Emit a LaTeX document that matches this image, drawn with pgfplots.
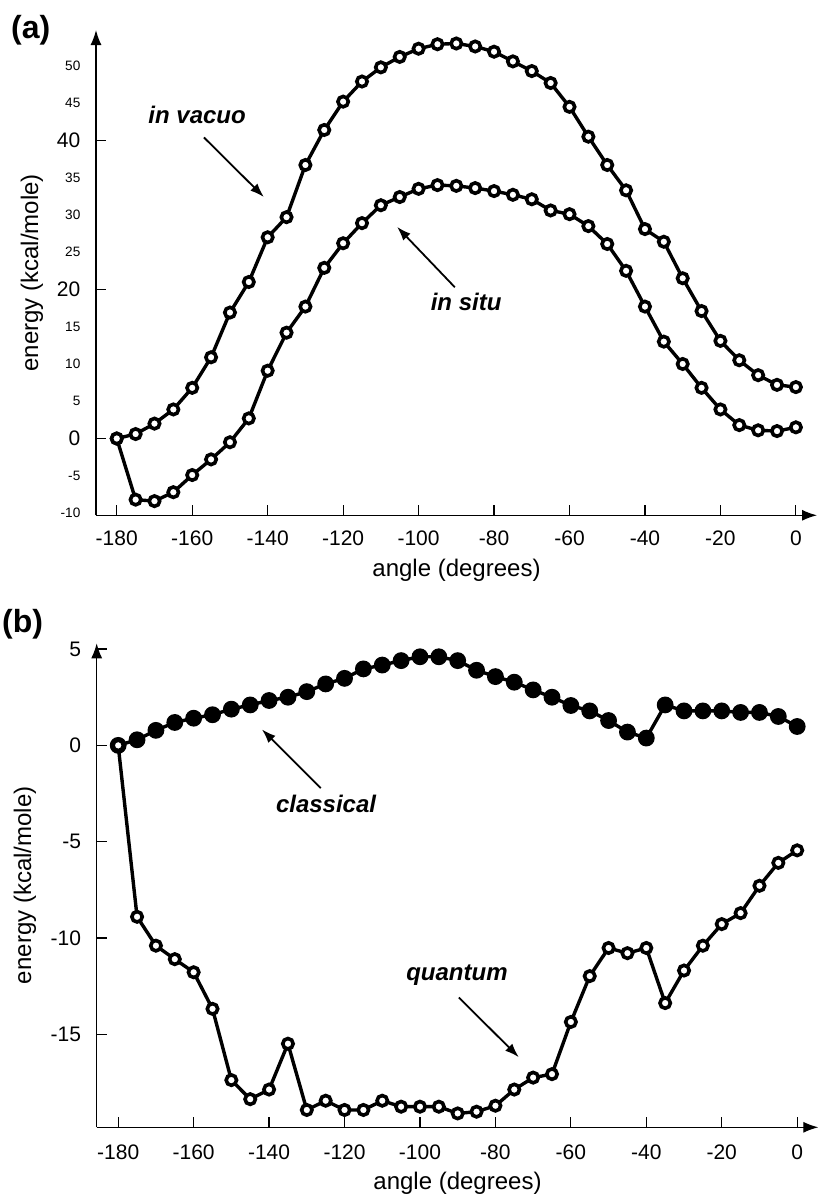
\documentclass[border=0pt]{standalone}
\usepackage{fontspec}
\setmainfont{Liberation Sans}
\usepackage{pgfplots}
\pgfplotsset{compat=1.18}
\usetikzlibrary{arrows.meta}

\pgfplotsset{
  panel/.style={
    scale only axis, axis lines=left,
    axis line style={line width=0.6pt, -{Latex[length=7.5pt,width=5.5pt]}},
    tick align=inside, major tick length=5pt,
    tick style={line width=0.6pt, black},
    xtick={-180,-160,...,0},
    /pgf/number format/assume math mode=true,
    tick label style={font=\fontsize{10.5}{12}\selectfont},
    xticklabel style={yshift=-4.3pt},
    yticklabel style={xshift=-4.3pt},
    label style={font=\fontsize{12}{14}\selectfont},
    xlabel={angle (degrees)}, ylabel={energy (kcal/mole)},
    clip=false,
  },
  open/.style={black, line width=1.7pt, mark=*, mark size=2.6pt,
    mark options={fill=white, line width=1.8pt}},
  filled/.style={black, line width=1.7pt, mark=*, mark size=3.9pt,
    mark options={fill=black, line width=0.6pt}},
}
\tikzset{
  note/.style={font=\bfseries\itshape\fontsize{12}{14}\selectfont},
  pointer/.style={line width=0.9pt, -{Latex[length=7pt,width=5pt]}},
}

\begin{document}
\begin{tikzpicture}
\path[use as bounding box] (0,0) rectangle (409.5pt,598.5pt);

\node[font=\bfseries\fontsize{16}{18}\selectfont] at (15.4pt,583.5pt) {(a)};
\node[font=\bfseries\fontsize{16}{18}\selectfont] at (11.3pt,286.3pt) {(b)};

% (a) in vacuo / in situ
\begin{axis}[panel,
  at={(48pt,340.85pt)}, anchor=south west,
  width=360.5pt, height=242.6pt,
  xmin=-185.5, xmax=5.6, ymin=-10.3, ymax=54.8,
  ytick={0,20,40},
  extra y ticks={-10,-5,5,10,15,25,30,35,45,50},
  extra y tick style={major tick length=0pt,
    tick label style={font=\fontsize{6.8}{8}\selectfont}},
  xlabel style={at={(axis description cs:0.5,-0.113)}, anchor=center},
  ylabel style={at={(axis description cs:-0.089,0.5)}, anchor=center},
]
\addplot[open] table {
x y
-180 0
-175 0.6
-170 2.0
-165 3.9
-160 6.8
-155 10.9
-150 16.9
-145 21.0
-140 27.0
-135 29.7
-130 36.7
-125 41.4
-120 45.2
-115 47.9
-110 49.8
-105 51.2
-100 52.3
-95 52.9
-90 53.0
-85 52.6
-80 51.9
-75 50.6
-70 49.3
-65 47.7
-60 44.5
-55 40.5
-50 36.7
-45 33.3
-40 28.1
-35 26.4
-30 21.5
-25 17.1
-20 13.1
-15 10.5
-10 8.5
-5 7.2
0 6.9
};
\addplot[open] table {
x y
-180 0
-175 -8.2
-170 -8.4
-165 -7.2
-160 -4.9
-155 -2.8
-150 -0.5
-145 2.7
-140 9.1
-135 14.2
-130 17.7
-125 22.9
-120 26.2
-115 28.9
-110 31.3
-105 32.4
-100 33.5
-95 34.0
-90 33.9
-85 33.6
-80 33.2
-75 32.7
-70 32.1
-65 30.6
-60 30.1
-55 28.5
-50 26.1
-45 22.5
-40 17.7
-35 13.0
-30 10.0
-25 6.8
-20 3.9
-15 1.8
-10 1.1
-5 1.0
0 1.5
};
\node[note] at (axis cs:-158.7,43.4) {in vacuo};
\draw[pointer] (axis cs:-156.9,40.4) -- (axis cs:-141.0,32.4);
\node[note] at (axis cs:-87.4,18.3) {in situ};
\draw[pointer] (axis cs:-90.4,20.3) -- (axis cs:-105.7,28.4);
\end{axis}

% (b) classical / quantum
\begin{axis}[panel,
  at={(48.35pt,34.85pt)}, anchor=south west,
  width=360.8pt, height=242pt,
  xmin=-185.7, xmax=5.6, ymin=-19.83, ymax=5.3,
  ytick={-15,-10,-5,0,5},
  xticklabel style={yshift=-0.7pt},
  xlabel style={at={(axis description cs:0.5,-0.116)}, anchor=center},
  ylabel style={at={(axis description cs:-0.0995,0.5)}, anchor=center},
]
\addplot[filled] table {
x y
-180 0
-175 0.29
-170 0.78
-165 1.19
-160 1.41
-155 1.59
-150 1.88
-145 2.10
-140 2.33
-135 2.50
-130 2.79
-125 3.19
-120 3.48
-115 3.97
-110 4.17
-105 4.40
-100 4.60
-95 4.60
-90 4.40
-85 3.90
-80 3.57
-75 3.28
-70 2.88
-65 2.50
-60 2.07
-55 1.79
-50 1.29
-45 0.69
-40 0.38
-35 2.10
-30 1.79
-25 1.79
-20 1.79
-15 1.71
-10 1.71
-5 1.50
0 0.98
};
\addplot[open] table {
x y
-180 0
-175 -8.90
-170 -10.40
-165 -11.10
-160 -11.78
-155 -13.68
-150 -17.38
-145 -18.37
-140 -17.87
-135 -15.49
-130 -18.93
-125 -18.45
-120 -18.93
-115 -18.93
-110 -18.45
-105 -18.76
-100 -18.76
-95 -18.76
-90 -19.11
-85 -19.02
-80 -18.71
-75 -17.87
-70 -17.25
-65 -17.07
-60 -14.36
-55 -11.98
-50 -10.52
-45 -10.79
-40 -10.52
-35 -13.38
-30 -11.69
-25 -10.40
-20 -9.28
-15 -8.71
-10 -7.29
-5 -6.10
0 -5.45
};
\node[note] at (axis cs:-124.9,-3.05) {classical};
\draw[pointer] (axis cs:-126.3,-2.22) -- (axis cs:-141.9,0.83);
\node[note] at (axis cs:-90.2,-11.95) {quantum};
\draw[pointer] (axis cs:-89.7,-13.09) -- (axis cs:-73.8,-16.19);
\end{axis}
\end{tikzpicture}
\end{document}
